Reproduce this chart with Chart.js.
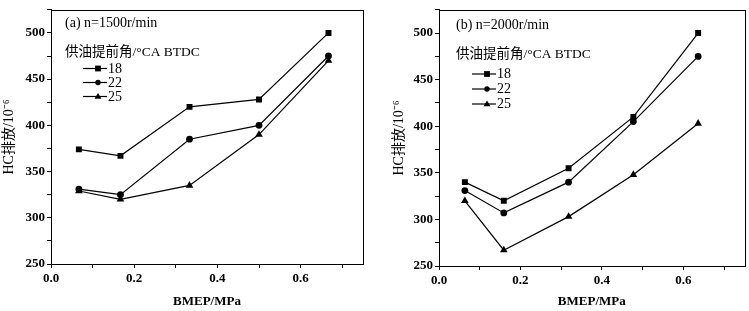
<!DOCTYPE html>
<html>
<head>
<meta charset="utf-8">
<script src="https://cdn.jsdelivr.net/npm/chart.js@4/dist/chart.umd.min.js"></script>
<style>
  body { margin: 0; background: #fff; width: 749px; height: 311px; position: relative; overflow: hidden; }
  .panel { position: absolute; top: 0; height: 311px; }
  #wrapA { left: 0; width: 375px; }
  #wrapB { left: 375px; width: 374px; }
</style>
</head>
<body>
<div class="panel" id="wrapA"><canvas id="chartA"></canvas></div>
<div class="panel" id="wrapB"><canvas id="chartB"></canvas></div>
<script>
// --- Data ---
const seriesNames = ['18', '22', '25'];
const markers = ['rect', 'circle', 'triangle'];

// (a) n=1500r/min
const bmepA = [0.067, 0.167, 0.333, 0.5, 0.667];
const hcA18 = [374, 367, 420, 428, 500];
const hcA22 = [331, 325, 385, 400, 475];
const hcA25 = [329, 320, 335, 390, 470];

// (b) n=2000r/min
const bmepB = [0.0635, 0.159, 0.318, 0.477, 0.636];
const hcB18 = [340, 320, 355, 410, 500];
const hcB22 = [331, 307, 340, 405, 475];
const hcB25 = [320, 267, 303, 348, 403];

const yTicksMajor = [250, 300, 350, 400, 450, 500];
const xTicksMajor = [0.0, 0.2, 0.4, 0.6];

const SERIF = "'Liberation Serif', 'Times New Roman', 'Noto Sans CJK SC', serif";

function pts(xs, ys) { return xs.map((x, i) => ({ x: x, y: ys[i] })); }

function makeDatasets(xs, groups) {
    return groups.map((ys, i) => ({
        label: seriesNames[i],
        data: pts(xs, ys),
        showLine: true,
        borderColor: '#000',
        backgroundColor: '#000',
        borderWidth: 1.2,
        pointStyle: markers[i],
        pointRadius: i === 0 ? 4.2 : (i === 1 ? 3.4 : 4.4),
        pointBorderWidth: 0,
        tension: 0
    }));
}

// marker for the hand-drawn legend
function drawMarker(ctx, style, x, y, s) {
    ctx.beginPath();
    if (style === 'rect') {
        ctx.rect(x - s, y - s, 2 * s, 2 * s);
    } else if (style === 'circle') {
        ctx.arc(x, y, s, 0, Math.PI * 2);
    } else {
        ctx.moveTo(x, y - s * 1.2);
        ctx.lineTo(x + s * 1.2, y + s * 0.8);
        ctx.lineTo(x - s * 1.2, y + s * 0.8);
        ctx.closePath();
    }
    ctx.fill();
}

// frame + in-plot caption and legend
const framePlugin = {
    id: 'frame',
    afterDraw(chart, args, opts) {
        const ctx = chart.ctx;
        const a = chart.chartArea;
        ctx.save();
        ctx.strokeStyle = '#000';
        ctx.lineWidth = 1;
        ctx.strokeRect(Math.round(a.left) + 0.5, Math.round(a.top) + 0.5,
                       Math.round(a.right - a.left), Math.round(a.bottom - a.top));

        ctx.fillStyle = '#000';
        ctx.textBaseline = 'middle';
        ctx.textAlign = 'left';
        ctx.font = '14px ' + SERIF;
        ctx.fillText(opts.caption, opts.x, opts.capY);
        ctx.font = '13.5px ' + SERIF;
        ctx.fillText('供油提前角/°CA BTDC', opts.x, opts.headY);

        ctx.font = '14px ' + SERIF;
        opts.rows.forEach((ry, i) => {
            ctx.strokeStyle = '#000';
            ctx.lineWidth = 1.2;
            ctx.beginPath();
            ctx.moveTo(opts.lx0, ry);
            ctx.lineTo(opts.lx1, ry);
            ctx.stroke();
            drawMarker(ctx, markers[i], (opts.lx0 + opts.lx1) / 2 + 3, ry, i === 1 ? 2.7 : 2.9);
            ctx.fillText(seriesNames[i], opts.lx1 + 1, ry + 0.5);
        });
        ctx.restore();
    }
};

function makeChart(id, xs, groups, geo, legendOpts) {
    return new Chart(document.getElementById(id), {
        type: 'scatter',
        data: { datasets: makeDatasets(xs, groups) },
        options: {
            responsive: true,
            maintainAspectRatio: false,
            animation: false,
            layout: { padding: { left: 0, right: geo.padRight, top: geo.padTop, bottom: 0 } },
            plugins: {
                legend: { display: false },
                tooltip: { enabled: false },
                frame: legendOpts
            },
            scales: {
                x: {
                    type: 'linear',
                    min: 0, max: 0.75,
                    afterFit: s => { s.height = geo.xHeight; },
                    border: { display: true, color: '#000', width: 1 },
                    grid: { drawOnChartArea: false, drawTicks: true, tickLength: 4, color: '#000' },
                    ticks: {
                        stepSize: 0.1,
                        includeBounds: false,
                        padding: 3,
                        color: '#000',
                        maxRotation: 0,
                        font: { family: SERIF, size: 13, weight: 'bold' },
                        callback: v => {
                            const hit = xTicksMajor.find(t => Math.abs(t - v) < 1e-6);
                            return hit !== undefined ? hit.toFixed(1) : '';
                        }
                    },
                    title: {
                        display: true,
                        text: 'BMEP/MPa',
                        color: '#000',
                        font: { family: SERIF, size: 13, weight: 'bold' },
                        padding: { top: 0, bottom: 2 }
                    }
                },
                y: {
                    type: 'linear',
                    min: 250, max: 525,
                    afterFit: s => { s.width = geo.yWidth; },
                    border: { display: true, color: '#000', width: 1 },
                    grid: { drawOnChartArea: false, drawTicks: true, tickLength: 4, color: '#000' },
                    ticks: {
                        stepSize: 25,
                        padding: 2,
                        color: '#000',
                        font: { family: SERIF, size: 13, weight: 'bold' },
                        callback: v => yTicksMajor.includes(v) ? String(v) : ''
                    },
                    title: {
                        display: true,
                        text: 'HC排放/10⁻⁶',
                        color: '#000',
                        font: { family: SERIF, size: 14 },
                        padding: { top: geo.yTitlePad, bottom: 0 }
                    }
                }
            }
        },
        plugins: [framePlugin]
    });
}

makeChart('chartA', bmepA, [hcA18, hcA22, hcA25],
    { padRight: 12, padTop: 1, xHeight: 47, yWidth: 51, yTitlePad: 1 },
    { caption: '(a) n=1500r/min', x: 65, capY: 23, headY: 52, lx0: 83, lx1: 107, rows: [68.5, 82.5, 96.5] });

makeChart('chartB', bmepB, [hcB18, hcB22, hcB25],
    { padRight: 1, padTop: 4, xHeight: 45, yWidth: 64, yTitlePad: 16 },
    { caption: '(b) n=2000r/min', x: 81, capY: 25, headY: 54, lx0: 97, lx1: 121, rows: [74, 89, 104] });
</script>
</body>
</html>
